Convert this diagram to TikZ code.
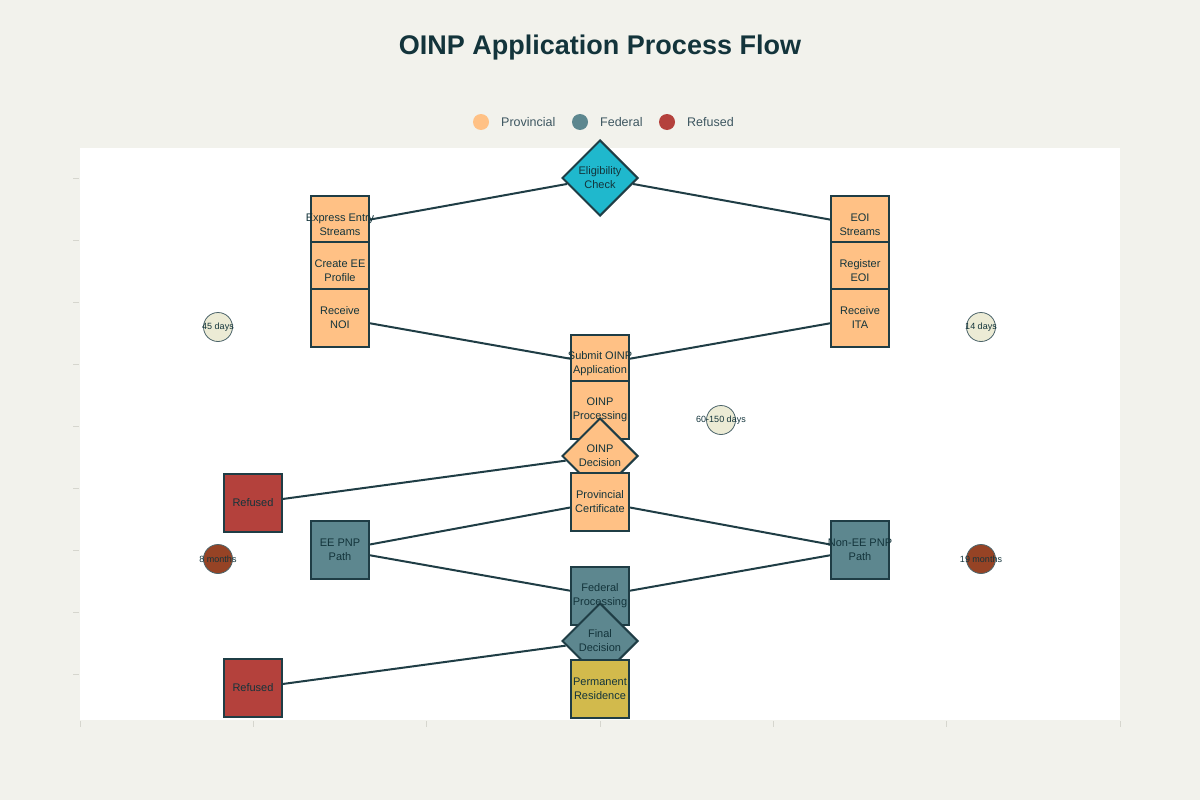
\documentclass[tikz,border=0pt]{standalone}
\usepackage{fontspec}
\setmainfont{Liberation Sans}
\usetikzlibrary{shapes.geometric}
\definecolor{bgc}{HTML}{F2F2EC}
\definecolor{provc}{HTML}{FFC185}
\definecolor{fedc}{HTML}{5D878F}
\definecolor{refc}{HTML}{B4413C}
\definecolor{eligc}{HTML}{1FB8CD}
\definecolor{prc}{HTML}{D2BA4C}
\definecolor{durc}{HTML}{ECEBD5}
\definecolor{brownc}{HTML}{964325}
\definecolor{darkc}{HTML}{13343B}
\definecolor{edgec}{HTML}{1F3D45}
\definecolor{legc}{HTML}{3D5660}
\definecolor{tickc}{HTML}{D6D6CE}
\pgfdeclarelayer{back}
\pgfdeclarelayer{bg}
\pgfsetlayers{back,bg,main}
\tikzset{
  boxnode/.style={rectangle, draw=edgec, line width=2pt, minimum width=58pt, minimum height=58pt, inner sep=0pt},
  prov/.style={boxnode, fill=provc},
  fed/.style={boxnode, fill=fedc},
  refu/.style={boxnode, fill=refc},
  resid/.style={boxnode, fill=prc},
  dia/.style={diamond, draw=edgec, line width=2pt, minimum width=76pt, minimum height=76pt, inner sep=0pt},
  dur/.style={circle, draw=edgec!80, line width=0.8pt, minimum size=29pt, inner sep=0pt},
  lbl/.style={font=\fontsize{11}{14}\selectfont, text=darkc, align=center, inner sep=0pt},
  dlbl/.style={font=\fontsize{9}{11}\selectfont, text=darkc, inner sep=0pt},
  edge/.style={draw=edgec, line width=2pt},
  legdot/.style={circle, minimum size=16pt, inner sep=0pt},
  legtxt/.style={anchor=west, font=\fontsize{12.5}{14}\selectfont, text=legc, inner sep=0pt},
  tick/.style={draw=tickc, line width=1pt}
}
\begin{document}
\begin{tikzpicture}[x=1pt,y=-1pt]
\useasboundingbox (0,0) rectangle (1200,800);
\begin{pgfonlayer}{back}
\fill[bgc] (0,0) rectangle (1200,800);
\fill[white] (80,148) rectangle (1120,720);
\foreach \yy in {178,240,302,364,426,488,550,612,674} {\draw[tick] (73,\yy) -- (79,\yy);}
\foreach \xx in {80,253.33,426.67,600,773.33,946.67,1120} {\draw[tick] (\xx,721) -- (\xx,727);}
\end{pgfonlayer}

% title
\node[font=\fontsize{27}{30}\selectfont\bfseries, text=darkc] (title) at (600,48) {OINP Application Process Flow};

% legend
\node[legdot, fill=provc] (lg1) at (481,122) {};
\node[legtxt] (lg1t) at (501,122) {Provincial};
\node[legdot, fill=fedc] (lg2) at (580,122) {};
\node[legtxt] (lg2t) at (600,122) {Federal};
\node[legdot, fill=refc] (lg3) at (667,122) {};
\node[legtxt] (lg3t) at (687,122) {Refused};

% shapes
\node[dia, fill=eligc] (elig) at (600,178) {};
\node[prov] (ees) at (340,225) {};
\node[prov] (cee) at (340,271) {};
\node[prov] (noi) at (340,318) {};
\node[prov] (eoi) at (860,225) {};
\node[prov] (reg) at (860,271) {};
\node[prov] (ita) at (860,318) {};
\node[prov] (sub) at (600,364) {};
\node[prov] (proc) at (600,410) {};
\node[dia, fill=provc] (dec) at (600,456) {};
\node[prov] (cert) at (600,502) {};
\node[refu] (ref1) at (253,503) {};
\node[fed] (eepnp) at (340,550) {};
\node[fed] (neepnp) at (860,550) {};
\node[fed] (fproc) at (600,596) {};
\node[dia, fill=fedc] (fdec) at (600,641) {};
\node[resid] (pr) at (600,689) {};
\node[refu] (ref2) at (253,688) {};
\node[dur, fill=durc] (d45) at (218,327) {};
\node[dur, fill=durc] (d14) at (981,327) {};
\node[dur, fill=durc] (d60) at (721,420) {};
\node[dur, fill=brownc] (d8) at (218,559) {};
\node[dur, fill=brownc] (d19) at (981,559) {};

% connectors
\begin{pgfonlayer}{bg}
\draw[edge] (elig) -- (ees);
\draw[edge] (elig) -- (eoi);
\draw[edge] (noi) -- (sub);
\draw[edge] (ita) -- (sub);
\draw[edge] (dec) -- (ref1);
\draw[edge] (cert) -- (eepnp);
\draw[edge] (cert) -- (neepnp);
\draw[edge] (eepnp) -- (fproc);
\draw[edge] (neepnp) -- (fproc);
\draw[edge] (fdec) -- (ref2);
\end{pgfonlayer}

% labels
\node[lbl] (eligt) at (elig) {Eligibility\\Check};
\node[lbl] (eest) at (ees) {Express Entry\\Streams};
\node[lbl] (ceet) at (cee) {Create EE\\Profile};
\node[lbl] (noit) at (noi) {Receive\\NOI};
\node[lbl] (eoit) at (eoi) {EOI\\Streams};
\node[lbl] (regt) at (reg) {Register\\EOI};
\node[lbl] (itat) at (ita) {Receive\\ITA};
\node[lbl] (subt) at (sub) {Submit OINP\\Application};
\node[lbl] (proct) at (proc) {OINP\\Processing};
\node[lbl] (dect) at (dec) {OINP\\Decision};
\node[lbl] (certt) at (cert) {Provincial\\Certificate};
\node[lbl] (ref1t) at (ref1) {Refused};
\node[lbl] (eepnpt) at (eepnp) {EE PNP\\Path};
\node[lbl] (neepnpt) at (neepnp) {Non-EE PNP\\Path};
\node[lbl] (fproct) at (fproc) {Federal\\Processing};
\node[lbl] (fdect) at (fdec) {Final\\Decision};
\node[lbl] (prt) at (pr) {Permanent\\Residence};
\node[lbl] (ref2t) at (ref2) {Refused};
\node[dlbl] (d45t) at (d45) {45 days};
\node[dlbl] (d14t) at (d14) {14 days};
\node[dlbl] (d60t) at (d60) {60-150 days};
\node[dlbl] (d8t) at (d8) {8 months};
\node[dlbl] (d19t) at (d19) {19 months};
\end{tikzpicture}
\end{document}
